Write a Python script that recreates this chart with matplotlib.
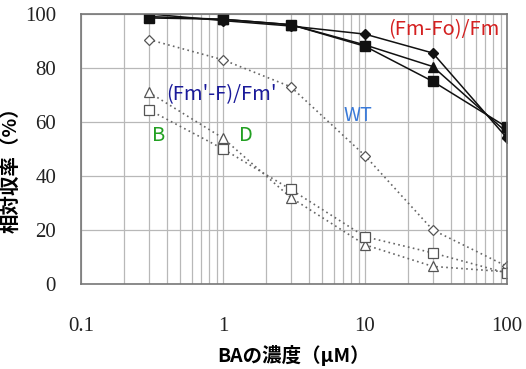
import matplotlib
matplotlib.use("Agg")
import matplotlib.pyplot as plt
from matplotlib import font_manager as fm
from matplotlib.ticker import FixedLocator, LogLocator, NullFormatter

conc = [0.3, 1, 3, 10, 30, 100]

# (Fm-Fo)/Fm  (solid, filled markers)
fv_diamond = [100, 97.5, 95.5, 92.5, 85.5, 54]
fv_triangle = [99, 98, 96, 88.5, 80.5, 56]
fv_square = [98.5, 98, 96, 88, 75, 58]

# (Fm'-F)/Fm'  (dotted, open markers)
wt_diamond = [90.5, 83, 73, 47.5, 20, 6.5]
d_triangle = [71, 54, 32, 14.5, 6.5, 4.5]
b_square = [64.5, 50, 35, 17.5, 11.5, 4]

y_ticks = [0, 20, 40, 60, 80, 100]
x_ticks = [0.1, 1, 10, 100]
x_ticklabels = ["0.1", "1", "10", "100"]

# locate a serif font file for tick labels
serif_file = None
for pref in ["Liberation Serif", "DejaVu Serif"]:
    for f in fm.fontManager.ttflist:
        if f.name == pref and f.style == "normal" and f.weight in (400, "normal", "regular"):
            serif_file = f.fname
            break
    if serif_file:
        break
if serif_file:
    tick_fp = fm.FontProperties(fname=serif_file, size=15)
else:
    tick_fp = fm.FontProperties(family="serif", size=15)

fig = plt.figure(figsize=(5.26, 3.69), dpi=100)
ax = fig.add_axes([0.154, 0.2304, 0.81, 0.732])
ax.set_xscale("log")
ax.set_xlim(0.1, 100)
ax.set_ylim(0, 100)

ax.xaxis.set_major_locator(FixedLocator(x_ticks))
ax.xaxis.set_minor_locator(LogLocator(base=10, subs=range(2, 10)))
ax.xaxis.set_minor_formatter(NullFormatter())
ax.set_xticks(x_ticks)
ax.set_xticklabels(x_ticklabels, fontproperties=tick_fp, color="#222222")
ax.set_yticks(y_ticks)
ax.set_yticklabels([str(v) for v in y_ticks], fontproperties=tick_fp, color="#222222")
ax.grid(True, which="both", axis="x", color="#b8b8b8", lw=0.9)
ax.grid(True, which="major", axis="y", color="#b8b8b8", lw=0.9)
ax.set_axisbelow(True)
ax.tick_params(which="both", length=0)
ax.tick_params(axis="x", pad=24)
ax.tick_params(axis="y", pad=18)
for s in ax.spines.values():
    s.set_color("#777777")
    s.set_linewidth(1.2)

solid = dict(color="#111111", lw=1.1)
ax.plot(conc, fv_square, marker="s", ms=6.5, mfc="#111111", mec="#111111", **solid)
ax.plot(conc, fv_triangle, marker="^", ms=7, mfc="#111111", mec="#111111", **solid)
ax.plot(conc, fv_diamond, marker="D", ms=5.5, mfc="#111111", mec="#111111", **solid)

dot = dict(color="#666666", lw=1.2, ls=(0, (1, 2)))
ax.plot(conc, wt_diamond, marker="D", ms=5, mfc="white", mec="#555555", mew=0.9, **dot)
ax.plot(conc, d_triangle, marker="^", ms=7, mfc="white", mec="#555555", mew=0.9, **dot)
ax.plot(conc, b_square, marker="s", ms=6.5, mfc="white", mec="#555555", mew=0.9, **dot)

fam = ["Noto Sans CJK JP", "DejaVu Sans"]
ax.text(36, 94, "(Fm-Fo)/Fm", color="#d42020", fontsize=14.5, ha="center", va="center", family=fam)
ax.text(0.97, 70, "(Fm'-F)/Fm'", color="#1a1a9a", fontsize=14.5, ha="center", va="center", family=fam)
ax.text(0.354, 55, "B", color="#22a022", fontsize=14.5, ha="center", va="center", family=fam)
ax.text(1.45, 55, "D", color="#22a022", fontsize=14.5, ha="center", va="center", family=fam)
ax.text(8.9, 62.5, "WT", color="#3a7ad8", fontsize=14, ha="center", va="center", family=fam)

ax.set_xlabel("BAの濃度（μM）", fontsize=14, fontweight="bold", family=fam)
ax.set_ylabel("相対収率（%）", fontsize=14, fontweight="bold", family=fam)
ax.xaxis.set_label_coords(0.5, -0.226)
ax.yaxis.set_label_coords(-0.143, 0.44)

fig.savefig("out.png", dpi=100)
